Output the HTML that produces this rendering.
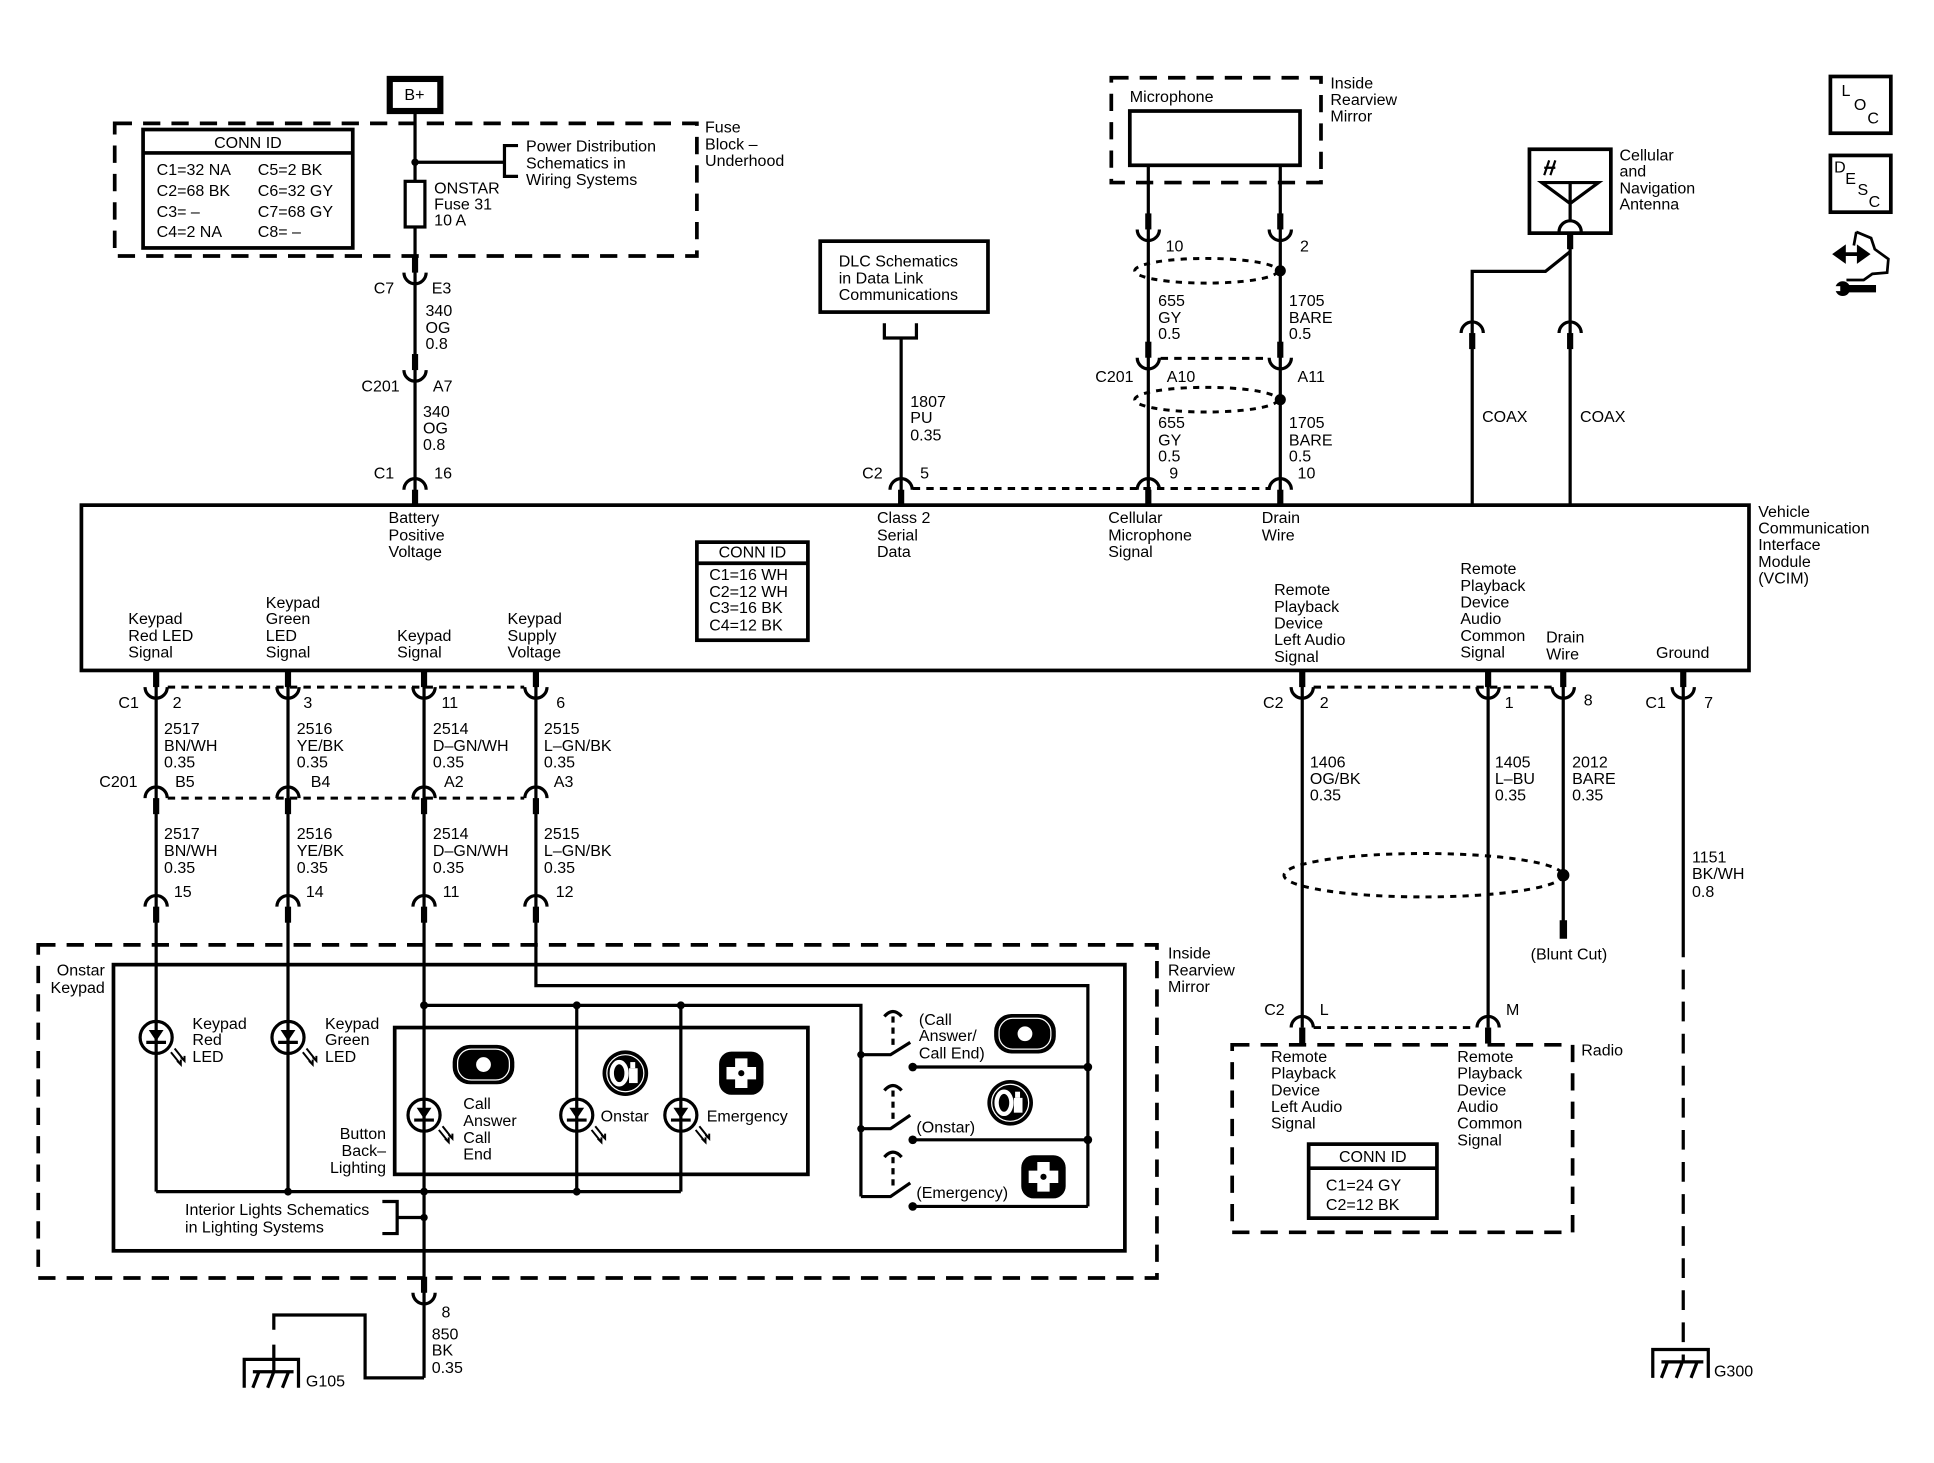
<!DOCTYPE html>
<html><head><meta charset="utf-8"><style>
html,body{margin:0;padding:0;background:#fff;}
svg{display:block;}
text{font-family:"Liberation Sans",Arial,sans-serif;font-size:13px;fill:#000;}
.w{stroke:#000;stroke-width:2.6;fill:none;}
.b{stroke:#000;stroke-width:3;fill:none;}
.d{stroke:#000;stroke-width:3;fill:none;stroke-dasharray:14 9;}
.dc{stroke:#000;stroke-width:2.4;fill:none;stroke-dasharray:6 5;}
.de{stroke:#000;stroke-width:2.4;fill:none;stroke-dasharray:5 5;}
</style></head><body>
<svg width="1934" height="1463" viewBox="0 0 1568 1186" preserveAspectRatio="none" xmlns="http://www.w3.org/2000/svg">
<defs>
<g id="cup"><rect x="-2.5" y="-13" width="5" height="13" fill="#000"/><path d="M-9,0 A9,9 0 0 0 9,0" class="w"/></g>
<g id="cap"><rect x="-2.5" y="0" width="5" height="13" fill="#000"/><path d="M-9,0 A9,9 0 0 1 9,0" class="w"/></g>
<g id="led"><circle cx="0" cy="0" r="13" fill="#fff" stroke="#000" stroke-width="2.6"/><path d="M-6,-6 L6,-6 L0,3 Z" fill="#000"/><line x1="-8" y1="4" x2="8" y2="4" stroke="#000" stroke-width="2.6"/><line x1="0" y1="-13" x2="0" y2="13" class="w"/>
<path d="M12,12 L20,22 M15,9 L23,19 M17,19 l3,3 l0,-4 M20,16 l3,3 l0,-4" stroke="#000" stroke-width="1.6" fill="none"/></g>
<g id="callic"><rect x="-25" y="-16" width="50" height="32" rx="14" fill="#000"/><rect x="-21" y="-12.5" width="42" height="25" rx="11" fill="none" stroke="#fff" stroke-width="1"/><ellipse cx="0" cy="0" rx="6" ry="6" fill="#fff"/></g>
<g id="onic"><circle r="18.5" fill="#000"/><circle r="15" fill="none" stroke="#fff" stroke-width="1"/><ellipse cx="-5" cy="0" rx="6" ry="9" fill="none" stroke="#fff" stroke-width="3.5"/><rect x="3" y="-4" width="7" height="12" fill="#fff"/><rect x="4" y="-9" width="4" height="5" fill="#fff"/></g>
<g id="emic"><rect x="-18" y="-17.5" width="36" height="35" rx="10" fill="#000"/><path d="M-5,-12 h10 v7 h7 v10 h-7 v7 h-10 v-7 h-7 v-10 h7 z" fill="#fff"/><circle r="2.5" fill="#000"/></g>
</defs>

<!-- B+ -->
<rect x="316" y="64" width="41" height="26" fill="none" stroke="#000" stroke-width="5"/>
<text x="336" y="81" text-anchor="middle">B+</text>

<!-- Fuse block -->
<rect x="93" y="100" width="472" height="107.5" class="d"/>
<rect x="116" y="105" width="170" height="96" class="b"/>
<line x1="116" y1="124" x2="286" y2="124" class="b"/>
<text x="201" y="120" text-anchor="middle">CONN ID</text>
<text x="127" y="142">C1=32 NA</text><text x="209" y="142">C5=2 BK</text>
<text x="127" y="159">C2=68 BK</text><text x="209" y="159">C6=32 GY</text>
<text x="127" y="176">C3= –</text><text x="209" y="176">C7=68 GY</text>
<text x="127" y="192">C4=2 NA</text><text x="209" y="192">C8= –</text>
<text x="571.6" y="107.6">Fuse</text><text x="571.6" y="121">Block –</text><text x="571.6" y="134.5">Underhood</text>

<line x1="336.5" y1="90" x2="336.5" y2="409" class="w"/>
<circle cx="336.5" cy="131.5" r="3" fill="#000"/>
<line x1="336.5" y1="131.5" x2="409" y2="131.5" class="w"/>
<path d="M420,118 H409 V143 H420" class="w"/>
<text x="426.5" y="123">Power Distribution</text><text x="426.5" y="136.5">Schematics in</text><text x="426.5" y="150">Wiring Systems</text>
<rect x="328.5" y="147" width="16" height="37" fill="#fff" stroke="#000" stroke-width="2.6"/>
<text x="352" y="157">ONSTAR</text><text x="352" y="170">Fuse 31</text><text x="352" y="183">10 A</text>

<use href="#cup" x="336.5" y="221"/>
<text x="303" y="238">C7</text><text x="350" y="238">E3</text>
<text x="345" y="256">340</text><text x="345" y="270">OG</text><text x="345" y="283">0.8</text>
<use href="#cup" x="336.5" y="300"/>
<text x="293" y="317.5">C201</text><text x="351" y="317.5">A7</text>
<text x="343" y="338">340</text><text x="343" y="351.5">OG</text><text x="343" y="365">0.8</text>
<text x="303" y="388">C1</text><text x="352" y="388">16</text>
<use href="#cap" x="336.5" y="397"/>

<!-- DLC -->
<rect x="665" y="195.5" width="136" height="57.5" class="b"/>
<text x="680" y="216">DLC Schematics</text><text x="680" y="230">in Data Link</text><text x="680" y="243">Communications</text>
<path d="M717,262 V274 H743 V262" class="w"/>
<line x1="730.6" y1="274" x2="730.6" y2="409" class="w"/>
<text x="738" y="330">1807</text><text x="738" y="343">PU</text><text x="738" y="357">0.35</text>
<text x="699" y="388">C2</text><text x="746" y="388">5</text>
<use href="#cap" x="730.6" y="397"/>
<line x1="740" y1="396" x2="1030" y2="396" class="dc"/>

<!-- Microphone -->
<rect x="901" y="63" width="170" height="85" class="d"/>
<text x="916" y="82.5">Microphone</text>
<rect x="916" y="90" width="138" height="44" class="b"/>
<text x="1078.6" y="71.6">Inside</text><text x="1078.6" y="85">Rearview</text><text x="1078.6" y="98.6">Mirror</text>
<line x1="931" y1="134" x2="931" y2="409" class="w"/>
<line x1="1038" y1="134" x2="1038" y2="409" class="w"/>
<use href="#cup" x="931" y="186"/><use href="#cup" x="1038" y="186"/>
<text x="945" y="204">10</text><text x="1054" y="204">2</text>
<ellipse cx="978" cy="219.5" rx="58" ry="10" class="de"/>
<circle cx="1038" cy="219.5" r="4.5" fill="#000"/>
<text x="939" y="248">655</text><text x="939" y="262">GY</text><text x="939" y="275">0.5</text>
<text x="1045" y="248">1705</text><text x="1045" y="262">BARE</text><text x="1045" y="275">0.5</text>
<use href="#cup" x="931" y="290"/><use href="#cup" x="1038" y="290"/>
<line x1="941" y1="290.5" x2="1028" y2="290.5" class="dc"/>
<text x="888" y="309.5">C201</text><text x="946" y="309.5">A10</text><text x="1052" y="309.5">A11</text>
<ellipse cx="978" cy="324" rx="58" ry="10" class="de"/>
<circle cx="1038" cy="324" r="4.5" fill="#000"/>
<text x="939" y="347">655</text><text x="939" y="361">GY</text><text x="939" y="374">0.5</text>
<text x="1045" y="347">1705</text><text x="1045" y="361">BARE</text><text x="1045" y="374">0.5</text>
<text x="948" y="388">9</text><text x="1052" y="388">10</text>
<use href="#cap" x="931" y="397"/><use href="#cap" x="1038" y="397"/>

<!-- Antenna -->
<rect x="1240" y="121" width="66" height="68" class="b"/>
<path d="M1250,148 H1296 L1273,165 Z M1273,148 V180" class="w"/>
<path d="M1252,142 L1256,130 M1257,142 L1261,130 M1252,136 h9" stroke="#000" stroke-width="1.8" fill="none"/>
<path d="M1264,188 A9,9 0 0 1 1282,188" class="w"/>
<rect x="1270.5" y="188" width="5" height="14" fill="#000"/>
<text x="1313" y="130">Cellular</text><text x="1313" y="143">and</text><text x="1313" y="157">Navigation</text><text x="1313" y="170">Antenna</text>
<line x1="1273" y1="200" x2="1273" y2="409" class="w"/>
<path d="M1273,204 L1253,220 H1193.6 V409" class="w"/>
<use href="#cap" x="1193.6" y="270"/><use href="#cap" x="1273" y="270"/>
<text x="1201.6" y="342">COAX</text><text x="1281" y="342">COAX</text>

<!-- LOC / DESC / tool -->
<rect x="1484" y="62" width="49" height="46" class="b"/>
<text x="1493" y="78" font-size="11">L</text><text x="1503" y="89" font-size="11">O</text><text x="1514" y="100" font-size="11">C</text>
<rect x="1484" y="126" width="49" height="46" class="b"/>
<text x="1487" y="140" font-size="11">D</text><text x="1496" y="149" font-size="11">E</text><text x="1506" y="158" font-size="11">S</text><text x="1515" y="168" font-size="11">C</text>
<path d="M1488,206 H1514 M1488,206 l7,-5 v10 z M1514,206 l-7,-5 v10 z" stroke="#000" stroke-width="3" fill="#000"/>
<path d="M1505,188 L1503,199 M1505,188 L1517,193 L1520,202 L1531,210 L1530,221 L1518,222 L1511,227 L1497,227" stroke="#000" stroke-width="2.2" fill="none"/>
<path d="M1497,234 H1521" stroke="#000" stroke-width="6"/>
<circle cx="1494" cy="234" r="6" fill="#000"/><rect x="1486" y="232" width="6" height="4" fill="#fff"/>

<!-- VCIM -->
<rect x="66" y="409.5" width="1352" height="134" class="b"/>
<text x="315" y="424">Battery</text><text x="315" y="438">Positive</text><text x="315" y="451.5">Voltage</text>
<text x="711" y="424">Class 2</text><text x="711" y="438">Serial</text><text x="711" y="451.5">Data</text>
<text x="898.5" y="424">Cellular</text><text x="898.5" y="438">Microphone</text><text x="898.5" y="451.5">Signal</text>
<text x="1023" y="424">Drain</text><text x="1023" y="438">Wire</text>
<text x="1425.5" y="419">Vehicle</text><text x="1425.5" y="432.5">Communication</text><text x="1425.5" y="446">Interface</text><text x="1425.5" y="459.5">Module</text><text x="1425.5" y="473">(VCIM)</text>
<rect x="565" y="439.5" width="90" height="79.5" class="b"/>
<line x1="565" y1="456.6" x2="655" y2="456.6" class="b"/>
<text x="610" y="452" text-anchor="middle">CONN ID</text>
<text x="575" y="470">C1=16 WH</text><text x="575" y="484">C2=12 WH</text><text x="575" y="497">C3=16 BK</text><text x="575" y="511">C4=12 BK</text>
<text x="104" y="506">Keypad</text><text x="104" y="519.6">Red LED</text><text x="104" y="533">Signal</text>
<text x="215.5" y="493">Keypad</text><text x="215.5" y="506">Green</text><text x="215.5" y="519.6">LED</text><text x="215.5" y="533">Signal</text>
<text x="322" y="519.6">Keypad</text><text x="322" y="533">Signal</text>
<text x="411.5" y="506">Keypad</text><text x="411.5" y="519.6">Supply</text><text x="411.5" y="533">Voltage</text>
<text x="1033" y="482.5">Remote</text><text x="1033" y="496">Playback</text><text x="1033" y="509.5">Device</text><text x="1033" y="523">Left Audio</text><text x="1033" y="536.5">Signal</text>
<text x="1184" y="465.5">Remote</text><text x="1184" y="479">Playback</text><text x="1184" y="492.5">Device</text><text x="1184" y="506">Audio</text><text x="1184" y="519.5">Common</text><text x="1184" y="533">Signal</text>
<text x="1253.5" y="521">Drain</text><text x="1253.5" y="534.5">Wire</text>
<text x="1342.6" y="533.6">Ground</text>

<!-- lower-left wires -->
<line x1="126.6" y1="544" x2="126.6" y2="966" class="w"/>
<line x1="233.5" y1="544" x2="233.5" y2="966" class="w"/>
<line x1="343.8" y1="544" x2="343.8" y2="1117" class="w"/>
<path d="M434.5,544 V799 H882 V978" class="w"/>
<use href="#cup" x="126.6" y="557"/><use href="#cup" x="233.5" y="557"/><use href="#cup" x="343.8" y="557"/><use href="#cup" x="434.5" y="557"/>
<line x1="136" y1="557" x2="425" y2="557" class="dc"/>
<text x="96" y="574">C1</text><text x="140" y="574">2</text><text x="246" y="574">3</text><text x="358" y="574">11</text><text x="451" y="574">6</text>
<g>
<text x="133" y="595">2517</text><text x="133" y="609">BN/WH</text><text x="133" y="622">0.35</text>
<text x="240.6" y="595">2516</text><text x="240.6" y="609">YE/BK</text><text x="240.6" y="622">0.35</text>
<text x="351" y="595">2514</text><text x="351" y="609">D–GN/WH</text><text x="351" y="622">0.35</text>
<text x="441" y="595">2515</text><text x="441" y="609">L–GN/BK</text><text x="441" y="622">0.35</text>
</g>
<text x="80.5" y="638">C201</text><text x="142" y="638">B5</text><text x="252" y="638">B4</text><text x="360" y="638">A2</text><text x="449" y="638">A3</text>
<use href="#cap" x="126.6" y="647"/><use href="#cap" x="233.5" y="647"/><use href="#cap" x="343.8" y="647"/><use href="#cap" x="434.5" y="647"/>
<line x1="136" y1="647" x2="425" y2="647" class="dc"/>
<g>
<text x="133" y="680">2517</text><text x="133" y="694">BN/WH</text><text x="133" y="707.6">0.35</text>
<text x="240.6" y="680">2516</text><text x="240.6" y="694">YE/BK</text><text x="240.6" y="707.6">0.35</text>
<text x="351" y="680">2514</text><text x="351" y="694">D–GN/WH</text><text x="351" y="707.6">0.35</text>
<text x="441" y="680">2515</text><text x="441" y="694">L–GN/BK</text><text x="441" y="707.6">0.35</text>
</g>
<text x="141" y="727">15</text><text x="248" y="727">14</text><text x="359" y="727">11</text><text x="450.6" y="727">12</text>
<use href="#cap" x="126.6" y="735"/><use href="#cap" x="233.5" y="735"/><use href="#cap" x="343.8" y="735"/><use href="#cap" x="434.5" y="735"/>

<!-- keypad -->
<rect x="31" y="766" width="907" height="270" class="d"/>
<rect x="92" y="782" width="820" height="232" class="b"/>
<text x="85" y="791" text-anchor="end">Onstar</text><text x="85" y="805" text-anchor="end">Keypad</text>
<text x="947" y="777">Inside</text><text x="947" y="791">Rearview</text><text x="947" y="804">Mirror</text>
<rect x="320" y="833" width="335" height="119" class="b"/>
<path d="M343.8,815 H698 V970" class="w"/>
<line x1="126.6" y1="966" x2="552" y2="966" class="w"/>
<line x1="467.6" y1="815" x2="467.6" y2="966" class="w"/>
<line x1="552" y1="815" x2="552" y2="966" class="w"/>
<circle cx="343.8" cy="815" r="3.2" fill="#000"/><circle cx="467.6" cy="815" r="3.2" fill="#000"/><circle cx="552" cy="815" r="3.2" fill="#000"/>
<circle cx="233.5" cy="966" r="3.2" fill="#000"/><circle cx="343.8" cy="966" r="3.2" fill="#000"/><circle cx="467.6" cy="966" r="3.2" fill="#000"/>
<use href="#led" x="126.6" y="841"/><use href="#led" x="233.5" y="841"/>
<use href="#led" x="343.8" y="904"/><use href="#led" x="467.6" y="904"/><use href="#led" x="552" y="904"/>
<text x="156" y="834">Keypad</text><text x="156" y="847">Red</text><text x="156" y="861">LED</text>
<text x="263.5" y="834">Keypad</text><text x="263.5" y="847">Green</text><text x="263.5" y="861">LED</text>
<use href="#callic" x="392" y="863"/><use href="#onic" x="507" y="870"/><use href="#emic" x="601" y="870"/>
<text x="375.6" y="899">Call</text><text x="375.6" y="913">Answer</text><text x="375.6" y="926.5">Call</text><text x="375.6" y="940">End</text>
<text x="487" y="909">Onstar</text><text x="573" y="909">Emergency</text>
<text x="313" y="923.5" text-anchor="end">Button</text><text x="313" y="937" text-anchor="end">Back–</text><text x="313" y="951" text-anchor="end">Lighting</text>
<path d="M310,974 H322 V1000 H310 M322,987 H343.8" class="w"/>
<circle cx="343.8" cy="987" r="3" fill="#000"/>
<text x="150" y="985">Interior Lights Schematics</text><text x="150" y="999">in Lighting Systems</text>

<!-- switches -->
<g class="w">
<path d="M698,855 H722 L738,845"/><path d="M740,865 H882"/>
<path d="M698,915 H722 L738,904"/><path d="M740,924 H882"/>
<path d="M698,970 H722 L738,959"/><path d="M740,978 H882"/>
</g>
<circle cx="698" cy="855" r="3" fill="#000"/><circle cx="698" cy="915" r="3" fill="#000"/>
<circle cx="740" cy="865" r="3.5" fill="#000"/><circle cx="740" cy="924" r="3.5" fill="#000"/><circle cx="740" cy="978" r="3.5" fill="#000"/>
<circle cx="882" cy="865" r="3.5" fill="#000"/><circle cx="882" cy="924" r="3.5" fill="#000"/>
<g stroke="#000" stroke-width="2.6" fill="none">
<path d="M724,824 V850" stroke-dasharray="5 4"/><path d="M717,824 Q724,816 731,824"/>
<path d="M724,884 V910" stroke-dasharray="5 4"/><path d="M717,884 Q724,876 731,884"/>
<path d="M724,938 V965" stroke-dasharray="5 4"/><path d="M717,938 Q724,930 731,938"/>
</g>
<text x="745" y="831">(Call</text><text x="745" y="844">Answer/</text><text x="745" y="858">Call End)</text>
<text x="743" y="918">(Onstar)</text><text x="743" y="971">(Emergency)</text>
<use href="#callic" x="831" y="838"/><use href="#onic" x="819" y="894"/><use href="#emic" x="846" y="954"/>

<!-- G105 -->
<use href="#cup" x="343.8" y="1048"/>
<text x="358" y="1068">8</text>
<text x="350" y="1086">850</text><text x="350" y="1099">BK</text><text x="350" y="1113">0.35</text>
<path d="M343.8,1117 H296 V1066 H222 V1078 M222,1090 V1112" class="w"/>
<path d="M198,1125 V1102 H242 V1125 M205,1112 H238 M210,1112 L205,1125 M222,1112 L217,1125 M234,1112 L229,1125" class="w"/>
<text x="248" y="1124">G105</text>

<!-- right lower -->
<line x1="1055.8" y1="544" x2="1055.8" y2="833" class="w"/>
<line x1="1206.5" y1="544" x2="1206.5" y2="833" class="w"/>
<line x1="1267.4" y1="544" x2="1267.4" y2="748" class="w"/>
<rect x="1264.5" y="746" width="6" height="15" fill="#000"/>
<line x1="1364.7" y1="544" x2="1364.7" y2="776" class="w"/>
<line x1="1364.7" y1="786" x2="1364.7" y2="1104" stroke="#000" stroke-width="2.6" stroke-dasharray="16 10"/>
<use href="#cup" x="1055.8" y="557"/><use href="#cup" x="1206.5" y="557"/><use href="#cup" x="1267.4" y="557"/><use href="#cup" x="1364.7" y="557"/>
<line x1="1065" y1="557" x2="1258" y2="557" class="dc"/>
<text x="1024" y="574">C2</text><text x="1070" y="574">2</text><text x="1220" y="574">1</text><text x="1284" y="572">8</text><text x="1334" y="574">C1</text><text x="1381.6" y="574">7</text>
<text x="1062" y="622">1406</text><text x="1062" y="635.5">OG/BK</text><text x="1062" y="649">0.35</text>
<text x="1212" y="622">1405</text><text x="1212" y="635.5">L–BU</text><text x="1212" y="649">0.35</text>
<text x="1274.6" y="622">2012</text><text x="1274.6" y="635.5">BARE</text><text x="1274.6" y="649">0.35</text>
<text x="1371.8" y="699">1151</text><text x="1371.8" y="712.6">BK/WH</text><text x="1371.8" y="727">0.8</text>
<ellipse cx="1154" cy="709.5" rx="113" ry="17.6" class="de"/>
<circle cx="1267.4" cy="709.5" r="5" fill="#000"/>
<text x="1241" y="778">(Blunt Cut)</text>

<!-- Radio -->
<use href="#cap" x="1055.8" y="833"/><use href="#cap" x="1206.5" y="833"/>
<line x1="1065" y1="833" x2="1197" y2="833" class="dc"/>
<text x="1025" y="823">C2</text><text x="1070" y="823">L</text><text x="1221" y="823">M</text>
<rect x="999" y="847" width="276" height="152" class="d"/>
<text x="1282" y="855.6">Radio</text>
<text x="1030.5" y="861">Remote</text><text x="1030.5" y="874.5">Playback</text><text x="1030.5" y="888">Device</text><text x="1030.5" y="901.5">Left Audio</text><text x="1030.5" y="915">Signal</text>
<text x="1181.5" y="861">Remote</text><text x="1181.5" y="874.5">Playback</text><text x="1181.5" y="888">Device</text><text x="1181.5" y="901.5">Audio</text><text x="1181.5" y="915">Common</text><text x="1181.5" y="928.5">Signal</text>
<rect x="1061" y="927.5" width="104" height="60" class="b"/>
<line x1="1061" y1="947" x2="1165" y2="947" class="b"/>
<text x="1113" y="942" text-anchor="middle">CONN ID</text>
<text x="1075" y="965">C1=24 GY</text><text x="1075" y="981">C2=12 BK</text>

<!-- G300 -->
<path d="M1340,1117 V1094 H1385 V1117 M1347,1104 H1381 M1352,1104 L1347,1117 M1364,1104 L1359,1117 M1376,1104 L1371,1117" class="w"/>
<text x="1389.6" y="1116">G300</text>
</svg>
</body></html>
